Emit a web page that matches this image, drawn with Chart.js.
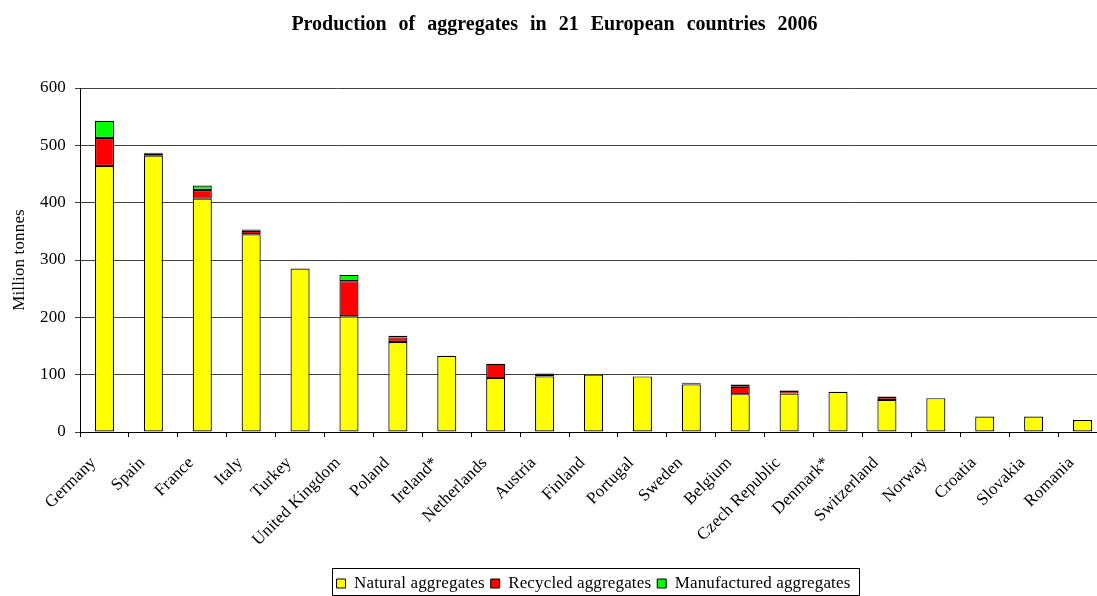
<!DOCTYPE html>
<html>
<head>
<meta charset="utf-8">
<script src="https://cdn.jsdelivr.net/npm/chart.js@4/dist/chart.umd.min.js"></script>
<style>
  html, body { margin: 0; padding: 0; background: #fff; overflow: hidden; }
  /* the plot runs on a little past the right edge of the view */
  #wrap { width: 1097px; height: 596px; overflow: hidden; position: relative; }
  #c { position: absolute; left: 0; top: 0; }
</style>
</head>
<body>
<div id="wrap"><canvas id="c" width="1107" height="596"></canvas></div>
<script>
// Aggregates production by country, 2006 (million tonnes)
const countries = ["Germany", "Spain", "France", "Italy", "Turkey", "United Kingdom", "Poland",
  "Ireland*", "Netherlands", "Austria", "Finland", "Portugal", "Sweden", "Belgium",
  "Czech Republic", "Denmark*", "Switzerland", "Norway", "Croatia", "Slovakia", "Romania"];
const natural      = [464, 482, 407, 345, 285, 202, 157, 133, 94, 97, 100, 97, 83, 66, 67, 70, 56, 59, 27, 27, 21];
const recycled     = [49,    4,  15,   6,   0,  61,   8,   0, 25,  3,   0,  0,  2, 13,  5,  0,  5,  0,  0,  0,  0];
const manufactured = [30,    1,   8,   2,   0,  11,   3,   0,  0,  2,   0,  0,  1,  4,  1,  0,  1,  0,  0,  0,  0];
const yTicks = [0, 100, 200, 300, 400, 500, 600];
const chartTitle = 'Production of aggregates in 21 European countries 2006';

const serif = "'Liberation Serif', 'DejaVu Serif', serif";

// Slightly open text tracking for every label the chart draws
const tracking = {
  id: 'tracking',
  beforeUpdate(chart) { chart.ctx.letterSpacing = '0.15px'; },
  beforeDraw(chart) { chart.ctx.letterSpacing = '0.15px'; }
};

// Bold heading above the plot
const heading = {
  id: 'heading',
  afterDraw(chart) {
    const ctx = chart.ctx;
    ctx.save();
    ctx.letterSpacing = '0px';
    ctx.wordSpacing = '7px';
    ctx.font = "bold 20px " + serif;
    ctx.fillStyle = '#000';
    ctx.textAlign = 'center';
    ctx.textBaseline = 'alphabetic';
    ctx.fillText(chartTitle, 554.5, 30);
    ctx.restore();
  }
};

// Frame drawn around the legend entries
const legendFrame = {
  id: 'legendFrame',
  afterDraw(chart) {
    const boxes = chart.legend && chart.legend.legendHitBoxes;
    if (!boxes || !boxes.length) return;
    let l = Infinity, r = -Infinity, t = Infinity, b = -Infinity;
    boxes.forEach(h => {
      l = Math.min(l, h.left); r = Math.max(r, h.left + h.width);
      t = Math.min(t, h.top); b = Math.max(b, h.top + h.height);
    });
    const ctx = chart.ctx;
    ctx.save();
    ctx.strokeStyle = '#000';
    ctx.lineWidth = 1;
    const x0 = Math.round(l - 5) + 0.5, x1 = Math.round(r + 9) + 0.5;
    const y0 = Math.round(t - 7) + 0.5, y1 = Math.round(b + 3) + 0.5;
    ctx.strokeRect(x0, y0, x1 - x0, y1 - y0);
    ctx.restore();
  }
};

const ds = (label, data, color) => ({
  label, data,
  backgroundColor: color,
  borderColor: '#000',
  borderWidth: 1.2,
  borderSkipped: false,
  barPercentage: 0.39,
  categoryPercentage: 1.0
});

new Chart(document.getElementById('c'), {
  type: 'bar',
  data: {
    labels: countries,
    datasets: [
      ds('Natural aggregates', natural, '#FFFF00'),
      ds('Recycled aggregates', recycled, '#FF0000'),
      ds('Manufactured aggregates', manufactured, '#00FF00')
    ]
  },
  plugins: [tracking, heading, legendFrame],
  options: {
    responsive: false,
    animation: false,
    devicePixelRatio: 1,
    layout: { padding: { left: 0, right: 0, top: 88, bottom: -6 } },
    plugins: {
      title: { display: false },
      legend: {
        display: true,
        position: 'bottom',
        fullSize: false,
        labels: {
          color: '#000',
          font: { family: serif, size: 17 },
          boxWidth: 9,
          boxHeight: 9,
          padding: 6,
          generateLabels(chart) {
            return chart.data.datasets.map((d, i) => ({
              text: d.label,
              fillStyle: d.backgroundColor,
              strokeStyle: '#000',
              lineWidth: 1,
              hidden: false,
              datasetIndex: i,
              fontColor: '#000'
            }));
          }
        }
      },
      tooltip: { enabled: false }
    },
    scales: {
      x: {
        stacked: true,
        offset: true,
        grid: {
          display: true,
          offset: true,
          drawOnChartArea: false,
          drawTicks: true,
          tickLength: 5,
          color: '#000'
        },
        border: { display: true, color: '#000', width: 1 },
        ticks: {
          color: '#000',
          font: { family: serif, size: 17 },
          minRotation: 45,
          maxRotation: 45,
          autoSkip: false,
          padding: 16,
          labelOffset: -11
        },
        afterFit(scale) {
          scale.height = 137;
          scale.paddingLeft = 0;
          scale.paddingRight = 0;
        }
      },
      y: {
        stacked: true,
        min: 0,
        max: 600,
        afterBuildTicks(scale) { scale.ticks = yTicks.map(v => ({ value: v })); },
        grid: {
          display: true,
          color: '#404040',
          lineWidth: 1,
          drawTicks: true,
          tickLength: 5
        },
        border: { display: true, color: '#000', width: 1 },
        ticks: {
          color: '#000',
          font: { family: serif, size: 17 },
          padding: 9
        },
        title: {
          display: true,
          text: 'Million tonnes',
          color: '#000',
          font: { family: serif, size: 17 },
          padding: { top: 9, bottom: 0 }
        },
        afterFit(scale) { scale.width = 80; }
      }
    }
  }
});
</script>
</body>
</html>
